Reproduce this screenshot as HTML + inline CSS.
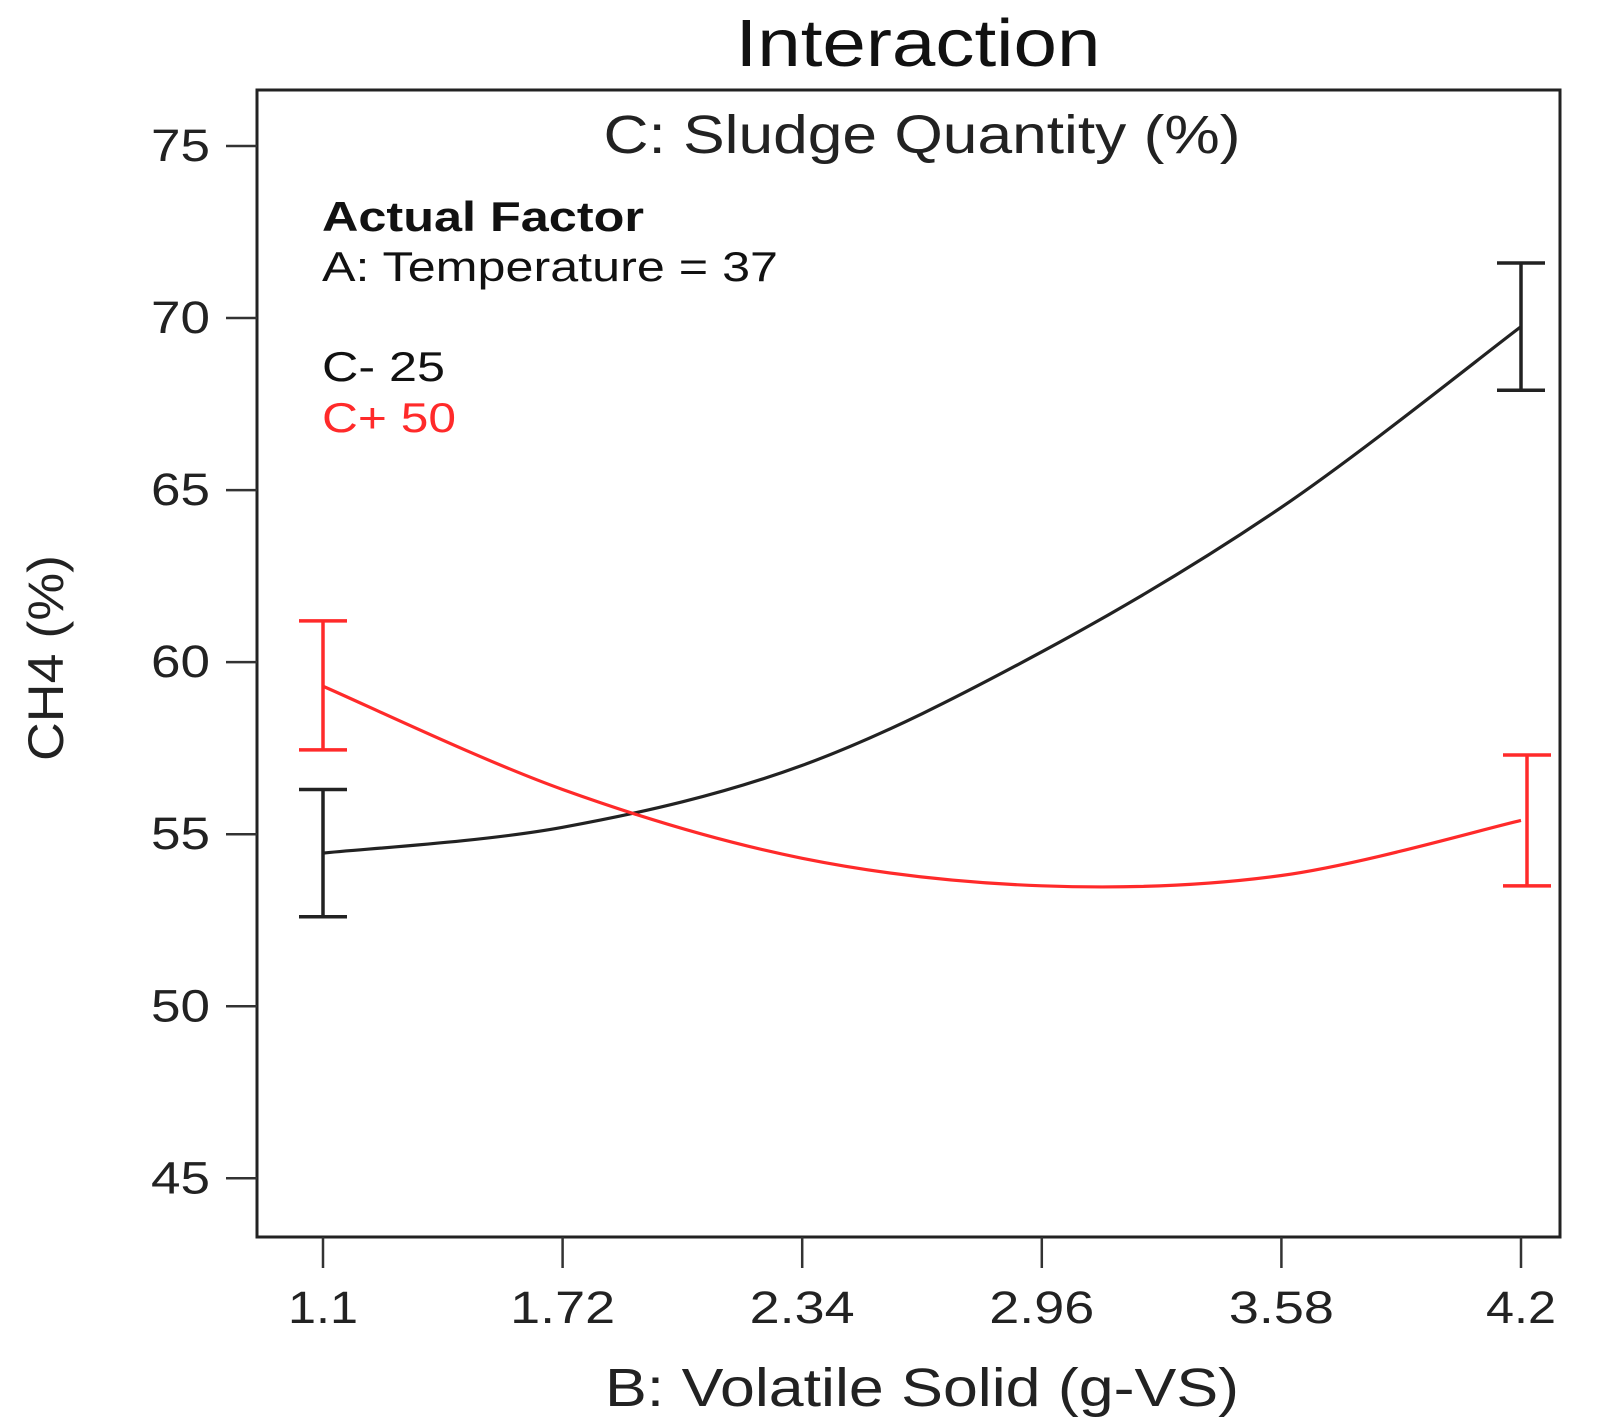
<!DOCTYPE html>
<html><head><meta charset="utf-8"><style>
body{margin:0;background:#fff}
svg{display:block;font-family:"Liberation Sans",sans-serif}
</style></head><body>
<svg id="chart" width="1608" height="1428" viewBox="0 0 1608 1428">
<text x="918" y="66" font-size="67" text-anchor="middle" fill="#111" textLength="365" lengthAdjust="spacingAndGlyphs">Interaction</text>
<rect x="257" y="90" width="1303" height="1147" fill="none" stroke="#222" stroke-width="3"/>
<text x="922" y="153" font-size="54" text-anchor="middle" fill="#222" textLength="637" lengthAdjust="spacingAndGlyphs">C: Sludge Quantity (%)</text>
<text x="322" y="231" font-size="42" font-weight="bold" fill="#111" textLength="322" lengthAdjust="spacingAndGlyphs">Actual Factor</text>
<text x="322" y="281" font-size="42" fill="#111" textLength="456" lengthAdjust="spacingAndGlyphs">A: Temperature = 37</text>
<text x="322" y="381" font-size="42" fill="#111" textLength="123" lengthAdjust="spacingAndGlyphs">C- 25</text>
<text x="322" y="432" font-size="42" fill="#ff2a2a" textLength="134" lengthAdjust="spacingAndGlyphs">C+ 50</text>
<text transform="translate(63,658) rotate(-90)" font-size="50" text-anchor="middle" fill="#222" textLength="206" lengthAdjust="spacingAndGlyphs">CH4 (%)</text>
<text x="922" y="1406" font-size="54" text-anchor="middle" fill="#222" textLength="634" lengthAdjust="spacingAndGlyphs">B: Volatile Solid (g-VS)</text>
<g id="axes"></g>
<g id="series"></g>
</svg>
<script>
const yTicks=[45,50,55,60,65,70,75];
const xTicks=[1.1,1.72,2.34,2.96,3.58,4.2];
const xTickLabels=["1.1","1.72","2.34","2.96","3.58","4.2"];
const xs=[1.1,1.72,2.34,2.96,3.58,4.2];
const lowValues=[54.45,55.2,57.0,60.3,64.5,69.75];
const highValues=[59.3,56.3,54.3,53.5,53.8,55.4];
const errX=[1.1,4.2];
const lowErrUpper=[56.3,71.6];
const lowErrLower=[52.6,67.9];
const highErrUpper=[61.2,57.3];
const highErrLower=[57.45,53.5];
const NS="http://www.w3.org/2000/svg";
function X(v){return 323+(v-1.1)*(1521-323)/3.1;}
function Y(v){return 146+(75-v)*34.41;}
function mk(t,a,p){const e=document.createElementNS(NS,t);for(const k in a)e.setAttribute(k,a[k]);p.appendChild(e);return e;}
const ax=document.getElementById('axes');
yTicks.forEach(v=>{
 const l=mk('line',{x1:226,x2:257,y1:Y(v),y2:Y(v),stroke:'#333','stroke-width':2.5},ax);
 
 
 const t=mk('text',{x:210,y:Y(v)+15,'font-size':45,'text-anchor':'end',fill:'#222',textLength:59,lengthAdjust:'spacingAndGlyphs'},ax);
 t.textContent=v;
 
 
});
xTicks.forEach((v,i)=>{
 const l=mk('line',{x1:X(v),x2:X(v),y1:1237,y2:1268,stroke:'#333','stroke-width':2.5},ax);
 
 
 const s=xTickLabels[i];
 const t=mk('text',{x:X(v),y:1323,'font-size':45,'text-anchor':'middle',fill:'#222',textLength:(s.length===3?70:105),lengthAdjust:'spacingAndGlyphs'},ax);
 t.textContent=s;
 
 
});
function smooth(px,py){
 let d='M'+px[0]+','+py[0];
 for(let i=0;i<px.length-1;i++){
  const x0=px[Math.max(i-1,0)],y0=py[Math.max(i-1,0)],x1=px[i],y1=py[i],x2=px[i+1],y2=py[i+1],x3=px[Math.min(i+2,px.length-1)],y3=py[Math.min(i+2,px.length-1)];
  d+=' C'+(x1+(x2-x0)/6)+','+(y1+(y2-y0)/6)+' '+(x2-(x3-x1)/6)+','+(y2-(y3-y1)/6)+' '+x2+','+y2;
 }
 return d;
}
const sg=document.getElementById('series');
function series(vals,up,lo,col,name,dx){
 const p=mk('path',{d:smooth(xs.map(X),vals.map(Y)),fill:'none',stroke:col,'stroke-width':3.2},sg);
 
 
 errX.forEach((v,i)=>{
  const x=X(v)+(i===1?dx:0);
  const g=mk('g',{stroke:col,'stroke-width':3.5},sg);
  
  
  mk('line',{x1:x,x2:x,y1:Y(up[i]),y2:Y(lo[i])},g);
  mk('line',{x1:x-24,x2:x+24,y1:Y(up[i]),y2:Y(up[i])},g);
  mk('line',{x1:x-24,x2:x+24,y1:Y(lo[i]),y2:Y(lo[i])},g);
 });
}
series(lowValues,lowErrUpper,lowErrLower,'#222','c-minus-25',0);
series(highValues,highErrUpper,highErrLower,'#ff2a2a','c-plus-50',6);
</script>
</body></html>
